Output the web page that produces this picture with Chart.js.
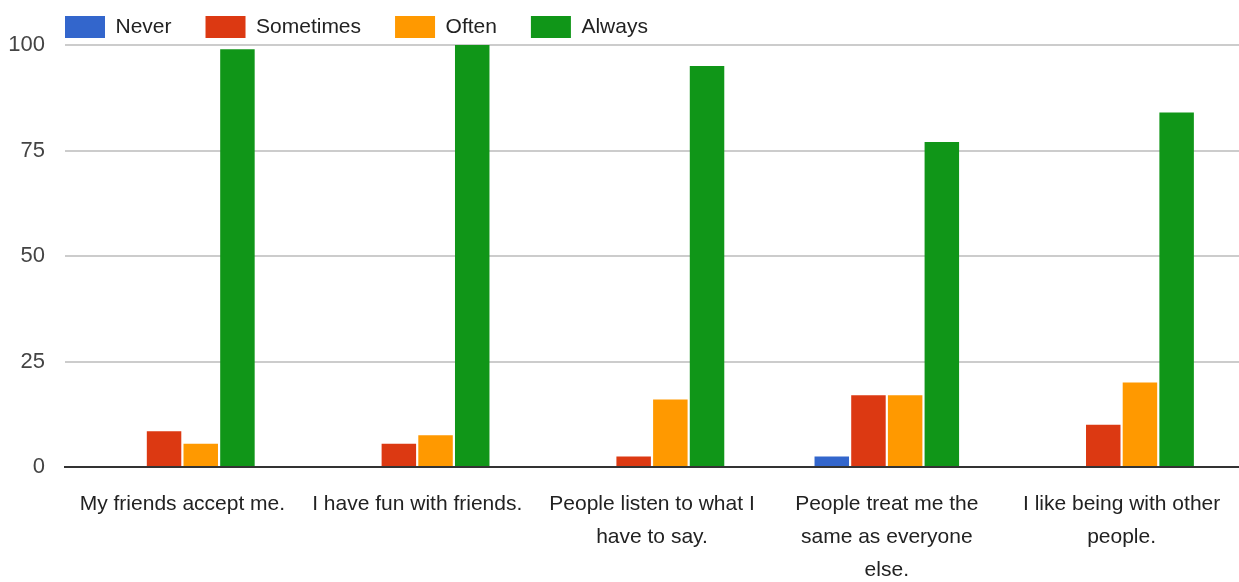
<!DOCTYPE html>
<html>
<head>
<meta charset="utf-8">
<script src="https://cdn.jsdelivr.net/npm/chart.js@4"></script>
<style>
  html, body { margin: 0; padding: 0; background: #fff; }
  #wrap { width: 1239px; height: 582px; }
</style>
</head>
<body>
<div id="wrap"><canvas id="chart"></canvas></div>
<script>
// data
const categories = [
  ['My friends accept me.'],
  ['I have fun with friends.'],
  ['People listen to what I', 'have to say.'],
  ['People treat me the', 'same as everyone', 'else.'],
  ['I like being with other', 'people.']
];
const never = [0, 0, 0, 2.5, 0];
const sometimes = [8.5, 5.5, 2.5, 17, 10];
const often = [5.5, 7.5, 16, 17, 20];
const always = [99, 100, 95, 77, 84];
const yTicks = [0, 25, 50, 75, 100];

const FONT = '"Liberation Sans", Arial, sans-serif';

// legend sits over the top of the plot, starting at the plot's left edge
const legendFix = {
  id: 'legendFix',
  beforeUpdate(chart) {
    const lg = chart.legend;
    if (lg && !lg._fixed) {
      const fit = lg.fit.bind(lg);
      lg.fit = function () { fit(); this.height = 45; };
      lg._fixed = true;
    }
  },
  beforeDraw(chart) {
    const lg = chart.legend;
    lg.left = chart.chartArea.left - lg.options.labels.padding;
    lg.top = -18;
  }
};

new Chart(document.getElementById('chart'), {
  type: 'bar',
  data: {
    labels: categories,
    datasets: [
      { label: 'Never', data: never, backgroundColor: '#3366cc' },
      { label: 'Sometimes', data: sometimes, backgroundColor: '#dc3912' },
      { label: 'Often', data: often, backgroundColor: '#ff9900' },
      { label: 'Always', data: always, backgroundColor: '#109618' }
    ]
  },
  options: {
    responsive: true,
    maintainAspectRatio: false,
    animation: false,
    categoryPercentage: 0.625,
    barPercentage: 0.94,
    layout: { padding: { right: -4 } },
    plugins: {
      legend: {
        position: 'top',
        align: 'start',
        labels: {
          boxWidth: 40,
          boxHeight: 22,
          padding: 34,
          color: '#222',
          font: { family: FONT, size: 21 }
        }
      },
      tooltip: { enabled: false }
    },
    scales: {
      x: {
        grid: { display: false },
        border: { display: true, color: '#333', width: 2 },
        ticks: {
          color: '#222',
          maxRotation: 0,
          autoSkip: false,
          padding: 13,
          font: { family: FONT, size: 21, lineHeight: 1.57 }
        },
        afterFit(scale) { scale.height = 115; }
      },
      y: {
        min: 0,
        max: 100,
        afterBuildTicks(scale) { scale.ticks = yTicks.map(v => ({ value: v })); },
        grid: { color: '#cccccc', lineWidth: 2, drawTicks: false },
        border: { display: false },
        ticks: {
          color: '#444',
          padding: 20,
          font: { family: FONT, size: 22 }
        },
        afterFit(scale) { scale.width = 65; }
      }
    }
  },
  plugins: [legendFix]
});
</script>
</body>
</html>
